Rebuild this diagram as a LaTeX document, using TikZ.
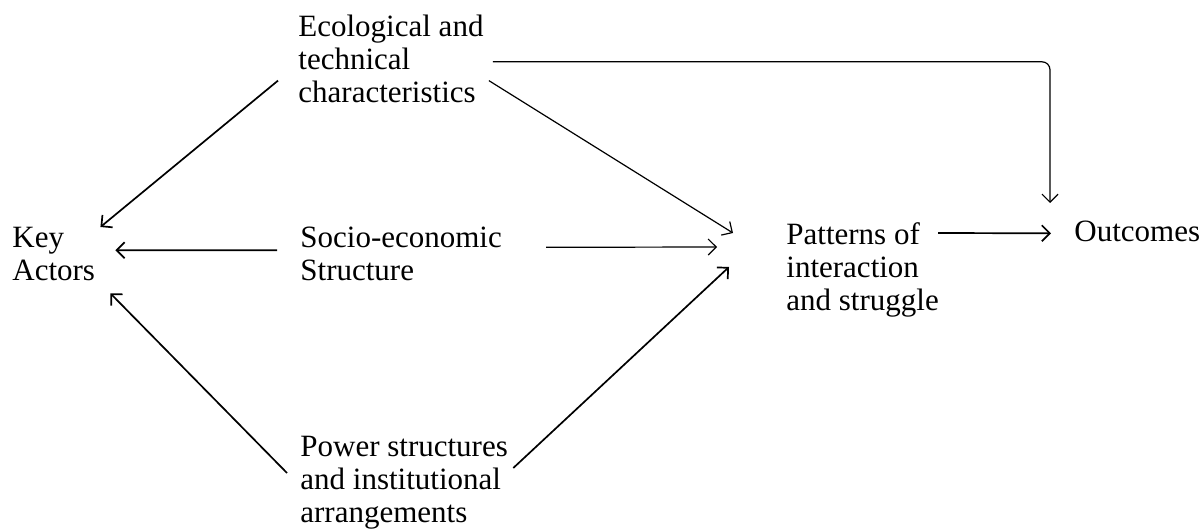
\documentclass[tikz,border=0pt]{standalone}
\usepackage{fontspec}
\setmainfont{Liberation Serif}
\usetikzlibrary{arrows.meta,positioning}
\tikzset{factor/.style={align=left,anchor=north west,inner sep=0pt,font=\fontsize{15.5}{16.5}\selectfont}, link/.style={-{Straight Barb[length=4pt,width=8pt]},line width=0.85pt}, faint/.style={link,line width=0.6pt}}

\begin{document}
\begin{tikzpicture}[x=0.5pt,y=-0.5pt]
\useasboundingbox (0,0) rectangle (1204,529);
\node[factor] (eco) at (298,15) {Ecological and\\technical\\characteristics};
\node[factor] (key) at (12,227) {Key\\Actors};
\node[factor] (soc) at (300,227) {Socio-economic\\Structure};
\node[factor] (pat) at (786,222) {Patterns of\\interaction\\and struggle};
\node[factor] (out) at (1074,221) {Outcomes};
\node[factor] (pow) at (300,436) {Power structures\\and institutional\\arrangements};
% towards the key actors
\draw[link] ([shift={(-20,-23)}]eco.south west) -- ([shift={(5,0)}]key.north east);
\draw[link] ([shift={(-23,-4)}]soc.west) -- ([shift={(20,-4)}]key.east);
\draw[link] ([shift={(-13,37)}]pow.north west) -- ([shift={(15,12)}]key.south east);
% towards the patterns
\draw[faint] ([shift={(5,-23)}]eco.south east) -- ([shift={(-53,11)}]pat.north west);
\draw[faint] ([shift={(44,-7)}]soc.east) -- ([shift={(-69,25)}]pat.north west);
\draw[link] ([shift={(5,32)}]pow.north east) -- ([shift={(-57,45)}]pat.north west);
% towards the outcomes
\draw[faint,rounded corners=4pt] ([shift={(9,2.5)}]eco.east) -| ([shift={(-24,-18)}]out.north west);
\draw[link] ([shift={(-1,11)}]pat.north east) -- ([shift={(-23,1.5)}]out.west);
\end{tikzpicture}
\end{document}
